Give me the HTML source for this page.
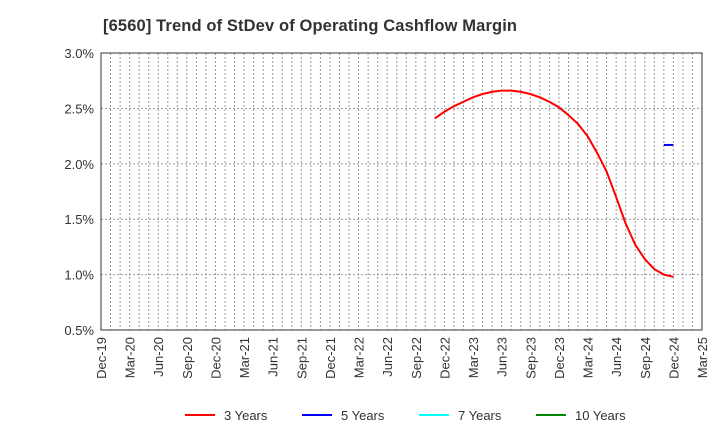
<!DOCTYPE html>
<html><head><meta charset="utf-8"><style>
body{margin:0;background:#fff;font-family:"Liberation Sans",Arial,sans-serif}
</style></head><body>
<svg id="c" width="720" height="440" xmlns="http://www.w3.org/2000/svg">
<text x="103" y="31" font-size="16.5" font-weight="bold" fill="#333" textLength="414">[6560]  Trend of StDev of Operating Cashflow Margin</text>
<g id="grid"></g><g id="axes"></g><g id="series"></g><g id="legend"></g>
</svg>
<script>
const xLabels=["Dec-19","Mar-20","Jun-20","Sep-20","Dec-20","Mar-21","Jun-21","Sep-21","Dec-21","Mar-22","Jun-22","Sep-22","Dec-22","Mar-23","Jun-23","Sep-23","Dec-23","Mar-24","Jun-24","Sep-24","Dec-24","Mar-25"];
const yTicks=[0.5,1.0,1.5,2.0,2.5,3.0];
const red3Start=35;
const red3=[2.41,2.47,2.52,2.56,2.60,2.63,2.65,2.66,2.66,2.65,2.63,2.60,2.56,2.51,2.44,2.36,2.25,2.10,1.93,1.70,1.46,1.27,1.14,1.05,1.00,0.98];
const blue5Start=59;
const blue5=[2.17,2.17];
const NS="http://www.w3.org/2000/svg";
const L=101,R=702,T=53,B=330,months=63;
const xs=m=>L+(R-L)*m/months;
const ys=v=>B-(v-0.5)/2.5*(B-T);
function mk(p,t,a){const e=document.createElementNS(NS,t);for(const k in a)e.setAttribute(k,a[k]);p.appendChild(e);return e;}
const g=document.getElementById('grid'),ax=document.getElementById('axes'),se=document.getElementById('series'),lg=document.getElementById('legend');
for(let m=1;m<months;m++){const l=mk(g,'line',{x1:xs(m),x2:xs(m),y1:T,y2:B,stroke:'#999','stroke-dasharray':'2,2','stroke-width':1});

}
yTicks.forEach(v=>{const y=ys(v);
if(v>0.5&&v<3){const l=mk(g,'line',{x1:L,x2:R,y1:y,y2:y,stroke:'#999','stroke-dasharray':'2,2'});

}
const t=mk(ax,'text',{x:L-7,y:y+5,'text-anchor':'end','font-size':13,fill:'#333'});t.textContent=v.toFixed(1)+'%';

});
const fr=mk(ax,'rect',{x:L,y:T,width:R-L,height:B-T,fill:'none',stroke:'#333'});


xLabels.forEach((s,i)=>{const x=xs(i*3);const t=mk(ax,'text',{transform:`translate(${x+5},${B+7}) rotate(-90)`,'text-anchor':'end','font-size':13,fill:'#333'});t.textContent=s;

});
function line(arr,start,col,name){const p=mk(se,'polyline',{points:arr.map((v,i)=>xs(start+i)+','+ys(v)).join(' '),fill:'none',stroke:col,'stroke-width':2,'stroke-linejoin':'round'});

}
line(red3,red3Start,'#f00','series-3-years');
line(blue5,blue5Start,'#00f','series-5-years');
[["3 Years","#f00",185],["5 Years","#00f",302],["7 Years","#0ff",419],["10 Years","#080",536]].forEach(d=>{
const l=mk(lg,'line',{x1:d[2],x2:d[2]+30,y1:415,y2:415,stroke:d[1],'stroke-width':2});


const t=mk(lg,'text',{x:d[2]+39,y:420,'font-size':13,fill:'#333'});t.textContent=d[0];

});
</script>
</body></html>
